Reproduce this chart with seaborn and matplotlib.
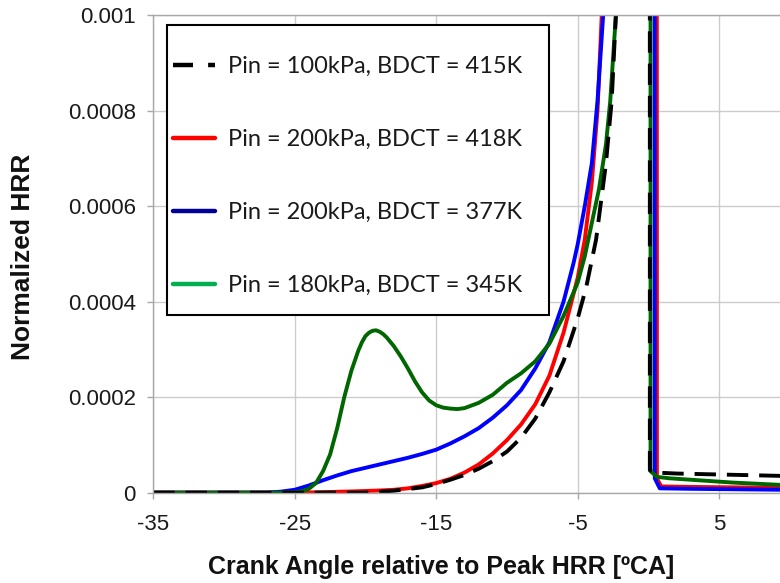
import numpy as np
import pandas as pd
import matplotlib
matplotlib.use("Agg")
import matplotlib.pyplot as plt
from matplotlib.lines import Line2D
from matplotlib.patches import Rectangle
import seaborn as sns

# Crank angle [deg CA] and normalized heat release rate for each case.
# The peak at 0 deg CA lies far above the plotted range.
x_100_415 = [-35, -20, -18, -16, -15, -14, -13, -12, -11, -10, -9, -8, -7, -6,
             -5, -4.4, -3.7, -3.0, -2.6, -2.3, 0, 0.1, 0.5, 2, 5, 9.5]
y_100_415 = [0, 0, 4e-6, 1.1e-5, 1.8e-5, 2.7e-5, 3.7e-5, 5.0e-5, 6.6e-5, 8.6e-5,
             1.15e-4, 1.55e-4, 2.1e-4, 2.75e-4, 3.65e-4, 4.3e-4, 5.3e-4, 6.9e-4,
             8.2e-4, 1.0e-3, 0.1, 4.7e-5, 4.2e-5, 4.0e-5, 3.8e-5, 3.5e-5]

x_200_418 = [-35, -25, -23, -21, -19, -18, -17, -16, -15, -14, -13, -12, -11, -10,
             -9, -8, -7, -6, -5, -4.5, -4.0, -3.6, -3.3, 0, 0.6, 0.9, 3, 9.5]
y_200_418 = [0, 0, 1e-6, 2.5e-6, 4.5e-6, 6e-6, 9e-6, 1.4e-5, 2.0e-5, 2.9e-5,
             4.2e-5, 5.9e-5, 8.2e-5, 1.1e-4, 1.43e-4, 1.85e-4, 2.45e-4, 3.35e-4,
             4.5e-4, 5.3e-4, 6.5e-4, 8.0e-4, 1.0e-3, 0.1, 3e-5, 1.3e-5, 1.2e-5, 1.0e-5]

x_200_377 = [-35, -27, -26, -25, -24, -23, -22, -21, -20, -19, -18, -17, -16, -15,
             -14, -13, -12, -11, -10, -9, -8, -7, -6, -5.3, -5, -4.5, -4, -3.6,
             -3.2, 0, 0.45, 0.8, 3, 9.5]
y_200_377 = [0, 0, 2e-6, 6e-6, 1.5e-5, 2.6e-5, 3.6e-5, 4.5e-5, 5.2e-5, 5.9e-5,
             6.6e-5, 7.3e-5, 8.1e-5, 9.0e-5, 1.03e-4, 1.18e-4, 1.35e-4, 1.57e-4,
             1.83e-4, 2.15e-4, 2.6e-4, 3.15e-4, 4.0e-4, 4.8e-4, 5.2e-4, 6.0e-4,
             6.9e-4, 8.2e-4, 1.0e-3, 0.1, 3e-5, 9e-6, 8e-6, 6e-6]

x_180_345 = [-35, -26, -25, -24.5, -24, -23.5, -23, -22.5, -22, -21.5, -21, -20.5,
             -20.25, -20, -19.75, -19.5, -19.25, -19, -18.75, -18.5, -18, -17.5,
             -17, -16.5, -16, -15.5, -15, -14.5, -14, -13.5, -13, -12, -11, -10,
             -9, -8, -7, -6, -5, -4.5, -4, -3.5, -3, -2.7, -2.3, 0, 0.15, 0.6,
             1.5, 3, 6, 9.5]
y_180_345 = [0, 0, 1e-6, 3e-6, 8e-6, 2e-5, 4.5e-5, 8e-5, 1.35e-4, 2.0e-4, 2.55e-4,
             2.98e-4, 3.15e-4, 3.28e-4, 3.35e-4, 3.39e-4, 3.4e-4, 3.37e-4,
             3.32e-4, 3.25e-4, 3.07e-4, 2.85e-4, 2.6e-4, 2.33e-4, 2.1e-4,
             1.93e-4, 1.83e-4, 1.78e-4, 1.76e-4, 1.75e-4, 1.77e-4, 1.88e-4,
             2.05e-4, 2.3e-4, 2.5e-4, 2.75e-4, 3.12e-4, 3.7e-4, 4.4e-4, 4.95e-4,
             5.65e-4, 6.35e-4, 7.3e-4, 8.2e-4, 1.0e-3, 0.1, 4.5e-5, 3.3e-5,
             3.0e-5, 2.7e-5, 2.1e-5, 1.6e-5]

labels = ["Pin = 100kPa, BDCT = 415K",
          "Pin = 200kPa, BDCT = 418K",
          "Pin = 200kPa, BDCT = 377K",
          "Pin = 180kPa, BDCT = 345K"]

x_ticks = [-35, -25, -15, -5, 5]
x_tick_labels = ["-35", "-25", "-15", "-5", "5"]
y_ticks = [0, 0.0002, 0.0004, 0.0006, 0.0008, 0.001]
y_tick_labels = ["0", "0.0002", "0.0004", "0.0006", "0.0008", "0.001"]

series = [(x_100_415, y_100_415), (x_200_418, y_200_418),
          (x_200_377, y_200_377), (x_180_345, y_180_345)]

sns.set_theme(style="white")
plt.rcParams["font.family"] = ["Liberation Sans", "DejaVu Sans"]

fig = plt.figure(figsize=(7.8, 5.83), dpi=100)
ax = fig.add_axes([0.1965, 0.155, 0.8035, 0.819])

line_colors = ["black", "#ff0000", "#0000ff", "#006600"]
legend_colors = ["black", "#ff0000", "#000099", "#00b050"]
line_styles = [(0, (5.5, 2.8)), "-", "-", "-"]
draw_order = [1, 2, 3, 0]

for i in draw_order:
    xs, ys = series[i]
    df = pd.DataFrame({"angle": xs, "hrr": ys})
    sns.lineplot(data=df, x="angle", y="hrr", ax=ax, color=line_colors[i],
                 linewidth=2.8, linestyle=line_styles[i], estimator=None,
                 sort=False, legend=False)

ax.set_xlim(-35, 9.3)
ax.set_ylim(0, 0.001)
ax.set_xticks(x_ticks)
ax.set_xticklabels(x_tick_labels)
ax.set_yticks(y_ticks)
ax.set_yticklabels(y_tick_labels)

grid_color = "#cccccc"
ax.grid(True, color=grid_color, linewidth=1.0)
ax.set_axisbelow(True)
for side in ["left", "top", "bottom"]:
    ax.spines[side].set_color("#a8a8a8")
    ax.spines[side].set_linewidth(1.0)
ax.spines["right"].set_visible(False)

ax.tick_params(axis="both", which="major", direction="out", length=4.5,
               width=1.0, color="#a8a8a8", labelsize=16,
               labelcolor="#1a1a1a", bottom=True, left=True)
ax.tick_params(axis="x", pad=11)
ax.tick_params(axis="y", pad=8)

ax.set_xlabel("Crank Angle relative to Peak HRR [ºCA]", fontsize=18,
              fontweight="bold", color="#111111")
ax.set_ylabel("Normalized HRR", fontsize=19, fontweight="bold",
              color="#111111")
ax.xaxis.set_label_coords(0.459, -0.130)
ax.yaxis.set_label_coords(-0.189, 0.493)

# Legend box with generous inner spacing
box = Rectangle((0.0219, 0.372), 0.6095, 0.607, transform=ax.transAxes,
                facecolor="white", edgecolor="black", linewidth=1.5,
                zorder=4.5)
ax.add_patch(box)

handles = [Line2D([], [], color=legend_colors[i], linewidth=3.2)
           for i in range(4)]
handles[0].set_dashes((4.5, 3.4))
leg = ax.legend(handles, labels, loc="center left",
                bbox_to_anchor=(0.0314, 0.663), borderaxespad=0,
                borderpad=0, frameon=False, handlelength=1.78,
                handletextpad=0.55, labelspacing=2.2,
                prop={"family": ["Lato", "DejaVu Sans"], "size": 17})
for t in leg.get_texts():
    t.set_color("#1a1a1a")

fig.savefig("out.png", dpi=100)
